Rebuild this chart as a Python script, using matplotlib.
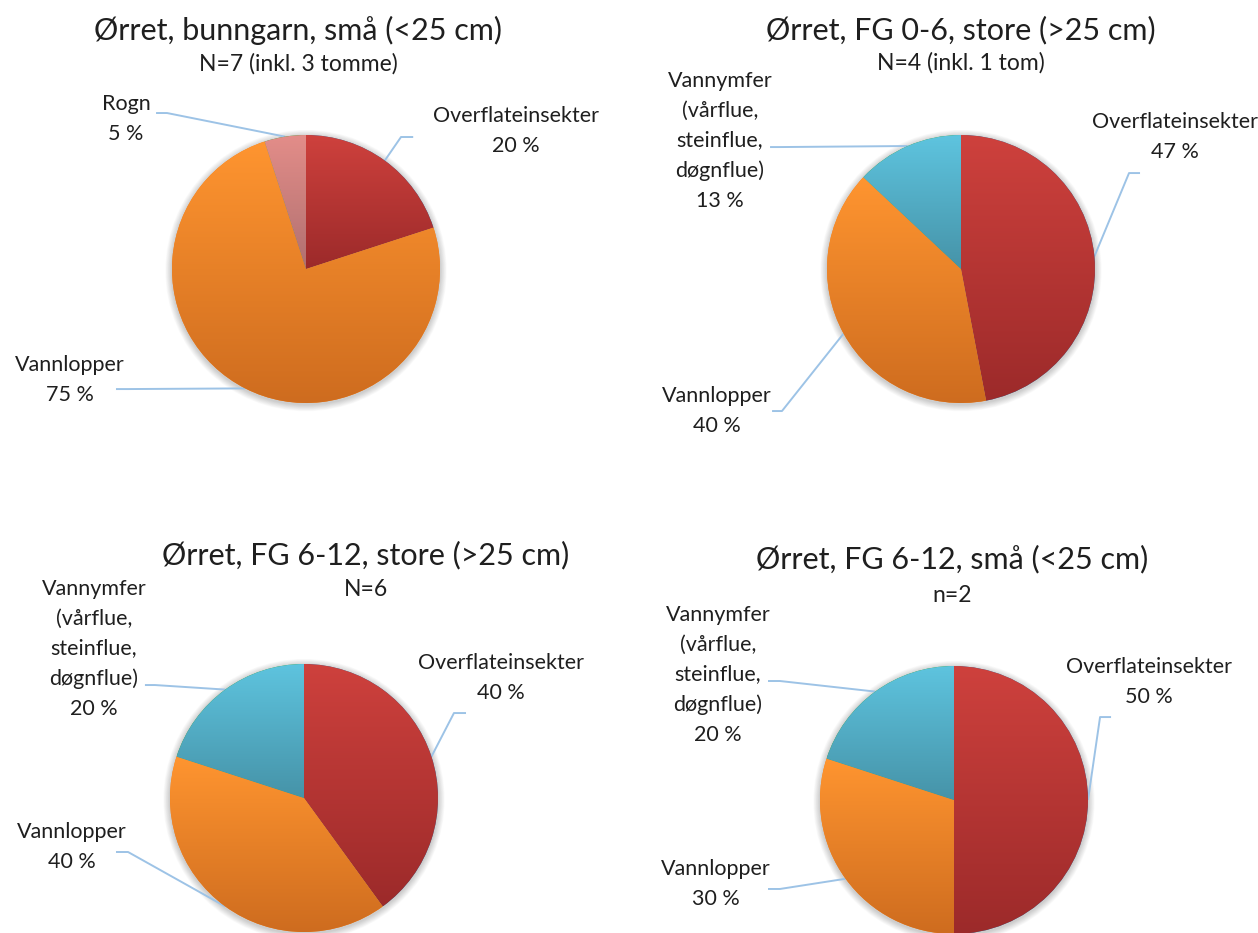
import numpy as np
import matplotlib
matplotlib.use("Agg")
import matplotlib.pyplot as plt
from matplotlib.colors import LinearSegmentedColormap
from matplotlib.patches import Circle

plt.rcParams['font.family'] = ['Lato', 'DejaVu Sans']

# ---- data ----
titles = ["Ørret, bunngarn, små (<25 cm)", "Ørret, FG 0-6, store (>25 cm)",
          "Ørret, FG 6-12, store (>25 cm)", "Ørret, FG 6-12, små (<25 cm)"]
subtitles = ["N=7 (inkl. 3 tomme)", "N=4 (inkl. 1 tom)", "N=6", "n=2"]

OVER = "Overflateinsekter"
VANNL = "Vannlopper"
ROGN = "Rogn"
NYMF = "Vannymfer\n(vårflue,\nsteinflue,\ndøgnflue)"

labels_1 = [OVER, VANNL, ROGN]
values_1 = [20, 75, 5]
labels_2 = [OVER, VANNL, NYMF]
values_2 = [47, 40, 13]
labels_3 = [OVER, VANNL, NYMF]
values_3 = [40, 40, 20]
labels_4 = [OVER, VANNL, NYMF]
values_4 = [50, 30, 20]

# ---- style / layout ----
W, H = 1258, 933
R = 134
# (top colour, bottom colour) of the gradient per slice
grad = {OVER: ("#CE413D", "#9C2A2A"),
        VANNL: ("#FF9530", "#CE6C1F"),
        ROGN: ("#E38D89", "#B07070"),
        NYMF: ("#5EC4DF", "#4693A8")}
line_col = "#9DC3E6"
txt_col = "#1f1f1f"

centers = [(306, 269), (961, 269), (304, 798), (954, 800)]
title_pos = [(298, 30, 64), (961, 30, 63), (366, 555, 590), (952, 559, 596)]

# label centre and leader stub (outer x, inner x, y), in radius units from pie centre
layout = [
    {OVER: ((1.567, 1.03), (0.80, 0.709, 0.985)),
     VANNL: ((-1.761, -0.828), (-1.418, -1.328, -0.896)),
     ROGN: ((-1.343, 1.119), (-1.119, -1.037, 1.164))},
    {OVER: ((1.597, 0.985), (1.336, 1.254, 0.716)),
     VANNL: ((-1.821, -1.06), (-1.410, -1.336, -1.06)),
     NYMF: ((-1.799, 0.955), (-1.425, -1.351, 0.910))},
    {OVER: ((1.47, 0.896), (1.209, 1.119, 0.634)),
     VANNL: ((-1.731, -0.366), (-1.403, -1.313, -0.403)),
     NYMF: ((-1.567, 1.112), (-1.187, -1.112, 0.843))},
    {OVER: ((1.455, 0.881), (1.172, 1.09, 0.619)),
     VANNL: ((-1.776, -0.627), (-1.388, -1.299, -0.664)),
     NYMF: ((-1.761, 0.933), (-1.388, -1.299, 0.888))},
]

fig = plt.figure(figsize=(W / 100, H / 100), dpi=100)
fig.patch.set_facecolor("white")


def draw_pie(i, labels, values):
    cx, cy = centers[i]
    ax = fig.add_axes([0, 0, 1, 1])
    ax.set_axis_off()
    ax.patch.set_alpha(0)
    wedges, _ = ax.pie(values, startangle=90, counterclock=False, radius=1,
                       wedgeprops=dict(linewidth=0))
    for w in wedges:
        w.set_zorder(2)

    # soft shadow
    for k in range(10):
        ax.add_patch(Circle((0, -0.012), 1 + 0.005 * (k + 1), color="black",
                            alpha=0.018, lw=0, zorder=0))

    for w, lab, v in zip(wedges, labels, values):
        top, bot = grad[lab]
        cmap = LinearSegmentedColormap.from_list("g", [bot, top])
        th = np.radians(np.linspace(w.theta1, w.theta2, 200))
        xs = np.r_[0, np.cos(th)]
        ys = np.r_[0, np.sin(th)]
        g = np.linspace(0, 1, 256).reshape(-1, 1)
        im = ax.imshow(g, cmap=cmap, origin="lower", aspect="auto", zorder=3,
                       extent=(xs.min(), xs.max(), ys.min(), ys.max()),
                       interpolation="bilinear")
        im.set_clip_path(w)

        mid = np.radians((w.theta1 + w.theta2) / 2)
        (lx, ly), (so, si, sy) = layout[i][lab]
        ax.plot([np.cos(mid), si, so], [np.sin(mid), sy, sy], color=line_col,
                lw=1.4, zorder=1, solid_capstyle="butt")
        ax.text(lx, ly, f"{lab}\n{v} %", ha="center", va="center",
                fontsize=15.5, color=txt_col, linespacing=1.6)

    ax.set_aspect("auto")
    ax.set_xlim(-cx / R, (W - cx) / R)
    ax.set_ylim(-(H - cy) / R, cy / R)

    tx, ty, sy2 = title_pos[i]
    fig.text(tx / W, 1 - ty / H, titles[i], ha="center", va="center",
             fontsize=22, color=txt_col)
    fig.text(tx / W, 1 - sy2 / H, subtitles[i], ha="center", va="center",
             fontsize=16.5, color=txt_col)


draw_pie(0, labels_1, values_1)
draw_pie(1, labels_2, values_2)
draw_pie(2, labels_3, values_3)
draw_pie(3, labels_4, values_4)

fig.savefig("out.png", dpi=100)
